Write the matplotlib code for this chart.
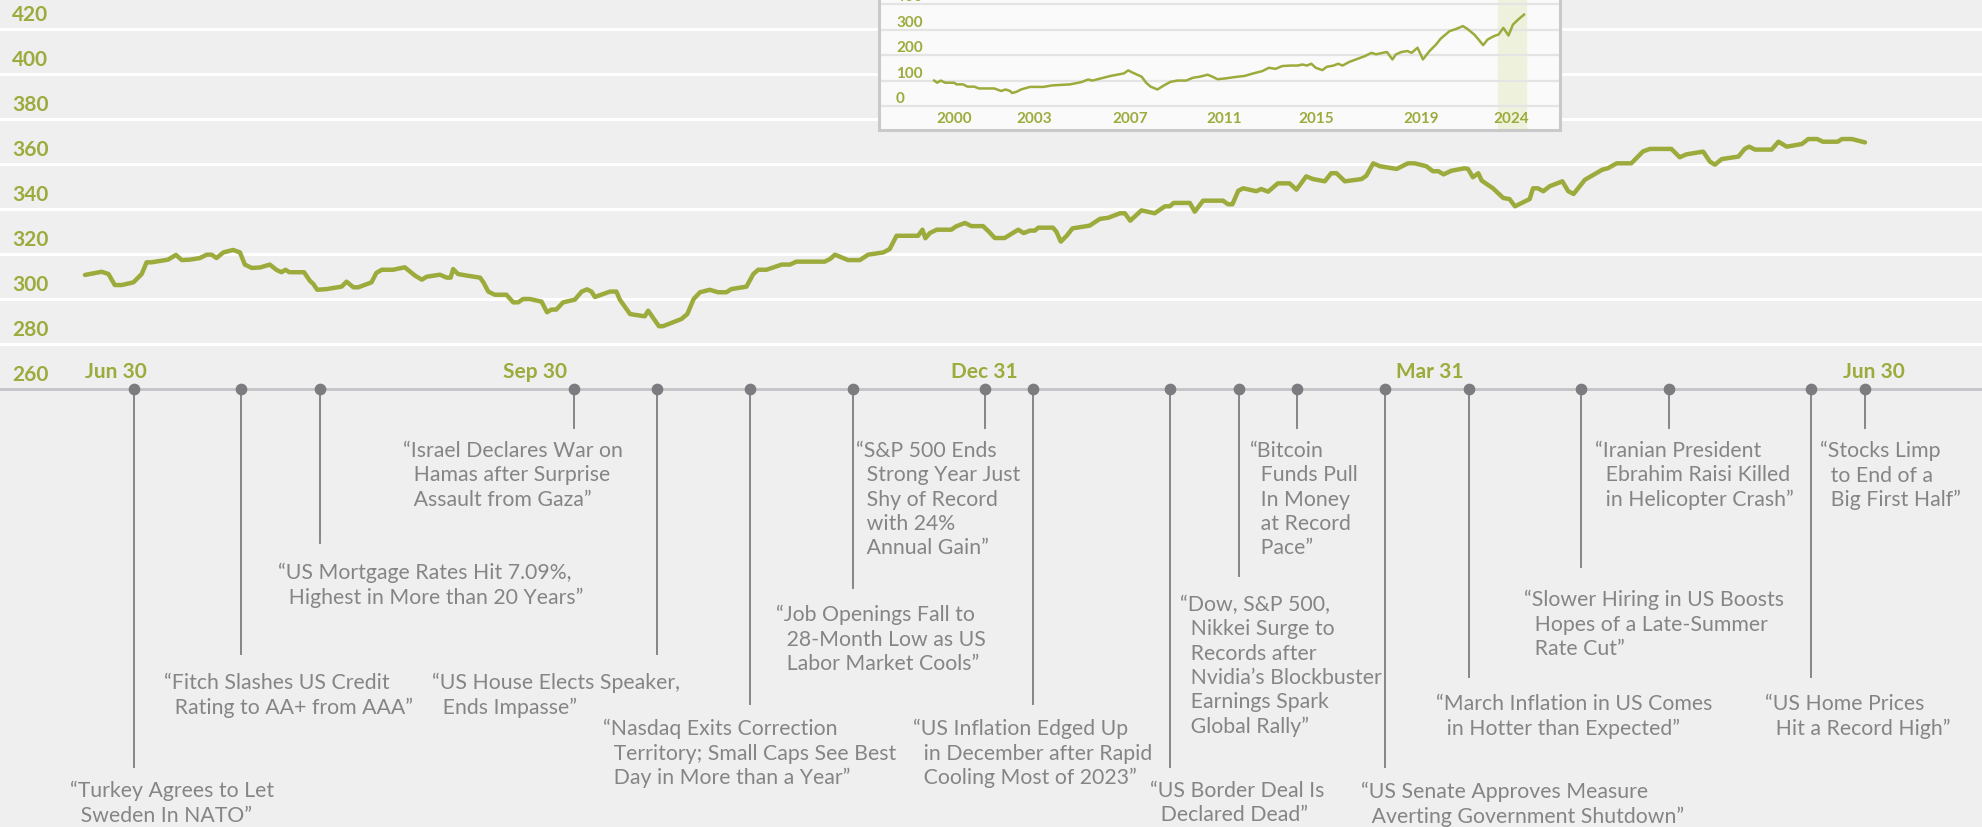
import matplotlib.pyplot as plt
import pandas as pd

START_DATE = pd.Timestamp("2023-06-30")

# Main index: days after Jun 30 2023 and index level
MAIN_DAYS = [
    0.0, 3.4, 4.8, 6.1, 7.5, 9.9, 11.6, 12.6, 13.6, 17.0,
    18.6, 19.8, 21.5, 23.5, 24.9, 25.9, 26.9, 28.3, 30.3, 31.7,
    32.7, 34.1, 35.8, 37.8, 39.2, 40.2, 41.0, 41.8, 44.8, 46.0,
    46.7, 47.5, 49.4, 52.5, 53.5, 54.9, 55.9, 58.6, 59.6, 60.7,
    63.0, 65.4, 67.5, 68.9, 69.9, 72.6, 74.0, 74.8, 75.3, 76.3,
    78.1, 80.8, 81.5, 82.5, 83.8, 86.2, 87.6, 88.6, 89.6, 91.0,
    93.4, 94.5, 95.4, 96.4, 97.8, 100.2, 101.6, 102.7, 103.6, 104.3,
    107.4, 108.7, 109.4, 111.5, 114.5, 115.2, 117.4, 118.2, 122.0, 123.2,
    124.5, 125.8, 127.8, 129.5, 131.2, 132.2, 135.3, 136.7, 137.7, 139.4,
    142.5, 144.2, 145.5, 151.3, 152.4, 153.4, 156.1, 158.5, 160.2, 163.3,
    164.6, 166.0, 170.4, 171.3, 171.9, 172.8, 174.2, 177.2, 178.2, 180.0,
    181.3, 183.7, 184.9, 186.1, 188.1, 190.9, 192.0, 193.3, 194.3, 195.0,
    198.0, 198.7, 199.6, 200.8, 202.0, 205.5, 207.6, 209.3, 211.7, 212.7,
    213.8, 216.1, 218.8, 220.9, 221.9, 222.7, 226.0, 227.0, 228.7, 232.8,
    233.8, 234.7, 235.9, 236.9, 239.6, 240.6, 242.0, 244.0, 246.4, 247.8,
    249.8, 251.2, 253.6, 254.9, 256.0, 257.7, 261.1, 262.1, 263.5, 264.9,
    268.3, 270.6, 272.0, 274.4, 275.7, 276.8, 277.9, 279.5, 282.2, 282.9,
    283.9, 285.0, 285.7, 288.0, 290.1, 291.4, 292.5, 295.5, 296.2, 297.2,
    298.3, 299.6, 302.2, 303.4, 304.5, 306.8, 310.4, 311.5, 313.3, 316.3,
    318.7, 320.1, 324.5, 326.2, 327.6, 331.0, 332.4, 333.4, 334.8, 338.2,
    339.5, 340.4, 341.6, 345.0, 346.4, 348.1, 351.2, 352.5, 354.3, 355.5,
    358.5, 359.4, 361.4, 364.1,
]
MAIN_VALUES = [
    310.7, 312.1, 311.1, 306.2, 306.2, 307.4, 311.1, 316.3, 316.3, 317.5,
    319.6, 317.3, 317.5, 318.2, 319.7, 319.7, 318.2, 320.7, 321.8, 320.7,
    315.3, 313.8, 314.0, 315.3, 312.9, 311.9, 313.0, 311.9, 311.9, 308.1,
    306.7, 304.1, 304.4, 305.5, 307.7, 305.2, 305.2, 307.4, 311.6, 313.0,
    313.0, 314.1, 310.4, 308.6, 309.9, 310.8, 309.5, 309.5, 313.3, 311.1,
    310.4, 309.5, 307.4, 303.3, 301.9, 301.9, 298.5, 298.5, 300.0, 300.0,
    298.8, 294.1, 295.3, 295.3, 298.5, 299.7, 303.3, 304.3, 303.3, 300.9,
    303.3, 303.3, 299.7, 293.3, 292.3, 294.8, 287.9, 287.9, 291.1, 293.3,
    300.0, 303.0, 304.1, 303.0, 303.0, 304.4, 305.5, 311.1, 313.0, 313.0,
    315.3, 315.3, 316.6, 316.6, 317.8, 319.7, 317.3, 317.3, 319.7, 320.7,
    322.2, 328.1, 328.1, 330.8, 327.0, 329.3, 330.8, 330.8, 332.3, 333.8,
    332.4, 332.4, 329.9, 327.1, 327.1, 330.8, 329.3, 330.4, 330.4, 331.7,
    331.7, 329.9, 325.5, 328.1, 331.4, 332.6, 335.6, 336.1, 338.1, 338.1,
    334.8, 339.4, 338.1, 341.2, 341.2, 342.7, 342.7, 338.8, 343.7, 343.7,
    342.1, 342.1, 348.1, 349.2, 347.9, 348.9, 347.7, 351.4, 351.4, 348.6,
    354.5, 353.3, 352.3, 355.9, 355.9, 352.3, 353.3, 354.8, 360.3, 359.0,
    357.8, 360.3, 360.3, 359.0, 356.8, 356.8, 355.4, 357.0, 358.1, 357.8,
    354.1, 355.9, 352.6, 349.2, 344.9, 344.4, 341.2, 344.4, 349.2, 349.2,
    347.9, 350.1, 352.3, 347.9, 346.7, 353.0, 357.5, 358.1, 360.3, 360.3,
    365.6, 366.7, 366.7, 363.0, 364.3, 365.5, 361.0, 359.7, 362.2, 363.3,
    366.7, 367.7, 366.4, 366.4, 369.9, 367.7, 368.9, 371.1, 371.1, 369.9,
    369.9, 371.1, 371.1, 369.6,
]
Y_TICKS = [260, 280, 300, 320, 340, 360, 380, 400, 420]

QUARTER_DATES = ["2023-06-30", "2023-09-30", "2023-12-31", "2024-03-31", "2024-06-30"]
QUARTER_LABELS = ["Jun 30", "Sep 30", "Dec 31", "Mar 31", "Jun 30"]

EVENT_DATES = [
    "2023-07-10", "2023-08-01", "2023-08-17", "2023-10-08", "2023-10-25",
    "2023-11-13", "2023-12-04", "2023-12-31", "2024-01-10", "2024-02-07",
    "2024-02-21", "2024-03-04", "2024-03-22", "2024-04-08", "2024-05-01",
    "2024-05-19", "2024-06-17", "2024-06-28",
]
EVENT_HEADLINES = [
    ["Turkey Agrees to Let", "Sweden In NATO"],
    ["Fitch Slashes US Credit", "Rating to AA+ from AAA"],
    ["US Mortgage Rates Hit 7.09%,", "Highest in More than 20 Years"],
    ["Israel Declares War on", "Hamas after Surprise", "Assault from Gaza"],
    ["US House Elects Speaker,", "Ends Impasse"],
    ["Nasdaq Exits Correction", "Territory; Small Caps See Best", "Day in More than a Year"],
    ["Job Openings Fall to", "28-Month Low as US", "Labor Market Cools"],
    ["S&P 500 Ends", "Strong Year Just", "Shy of Record", "with 24%", "Annual Gain"],
    ["US Inflation Edged Up", "in December after Rapid", "Cooling Most of 2023"],
    ["US Border Deal Is", "Declared Dead"],
    ["Dow, S&P 500,", "Nikkei Surge to", "Records after", "Nvidia\u2019s Blockbuster",
     "Earnings Spark", "Global Rally"],
    ["Bitcoin", "Funds Pull", "In Money", "at Record", "Pace"],
    ["US Senate Approves Measure", "Averting Government Shutdown"],
    ["March Inflation in US Comes", "in Hotter than Expected"],
    ["Slower Hiring in US Boosts", "Hopes of a Late-Summer", "Rate Cut"],
    ["Iranian President", "Ebrahim Raisi Killed", "in Helicopter Crash"],
    ["US Home Prices", "Hit a Record High"],
    ["Stocks Limp", "to End of a", "Big First Half"],
]

# Long-run inset: year and index level
INSET_YEARS = [
    1999.40, 1999.53, 1999.68, 1999.87, 2000.25, 2000.35, 2000.63, 2000.82, 2001.11, 2001.30,
    2001.96, 2002.25, 2002.44, 2002.63, 2002.72, 2002.91, 2003.10, 2003.48, 2004.05, 2004.43,
    2005.19, 2005.67, 2005.95, 2006.14, 2006.52, 2006.90, 2007.47, 2007.66, 2007.85, 2008.04,
    2008.23, 2008.42, 2008.61, 2008.90, 2009.18, 2009.46, 2009.75, 2010.13, 2010.41, 2010.70,
    2011.04, 2011.27, 2011.46, 2011.84, 2012.22, 2012.60, 2012.98, 2013.36, 2013.64, 2013.93,
    2014.21, 2014.59, 2014.88, 2015.07, 2015.26, 2015.45, 2015.64, 2015.92, 2016.11, 2016.40,
    2016.59, 2016.78, 2017.06, 2017.35, 2017.73, 2018.01, 2018.20, 2018.49, 2018.67, 2018.90,
    2019.05, 2019.28, 2019.53, 2019.72, 2019.97, 2020.20, 2020.48, 2020.76, 2020.95, 2021.33,
    2021.62, 2021.90, 2022.09, 2022.38, 2022.57, 2022.76, 2022.95, 2023.23, 2023.42, 2023.62,
    2023.84, 2024.03, 2024.28, 2024.50,
]
INSET_VALUES = [
    100, 91.5, 100, 91.5, 91.5, 85, 85, 76, 76, 69,
    69, 59, 65, 59, 51, 56, 65, 75, 75, 81,
    85, 94, 104, 100, 109, 118, 128, 140, 131, 123,
    115, 91.5, 76, 65, 81, 95, 100, 100, 111, 115,
    123, 114, 105, 109, 114, 118, 128, 137, 150, 146,
    157, 159, 159, 163, 159, 166, 150, 141, 154, 159,
    166, 159, 173, 183, 196, 209, 203, 209, 212, 183,
    203, 212, 216, 209, 229, 183, 216, 242, 264, 294,
    303, 314, 303, 281, 261, 239, 261, 275, 281, 307,
    277, 320, 342, 359,
]
INSET_Y_TICKS = [0, 100, 200, 300, 400]
INSET_X_TICK_POS = [2000.25, 2003.67, 2007.76, 2011.74, 2015.66, 2020.14, 2023.95]
INSET_X_TICK_LABELS = ["2000", "2003", "2007", "2011", "2015", "2019", "2024"]
INSET_HIGHLIGHT = (2023.4, 2024.6)

# Layout of the headline annotations (pixels)
EVENT_STEM_PX = [378, 265, 154, 39, 265, 315, 199, 39, 315, 378, 187, 39, 378, 288, 178, 39, 288, 39]
EVENT_TEXT_DX = [-64, -77, -42, -171, -225, -147, -77, -129, -120, -20, -59, -47, -24, -33, -57, -74, -46, -45]
EVENT_TEXT_Y = [403, 295, 185, 63, 295, 341, 227, 63, 341, 403, 217, 63, 404, 316, 212, 63, 316, 63]

OLIVE = "#9dab3c"
BACKGROUND = "#efefef"
GRAY_TEXT = "#858585"
GRAY_STEM = "#86868a"

plt.rcParams["font.family"] = ["Lato", "DejaVu Sans"]

W, H = 1982, 828
AXIS_Y = 390

fig = plt.figure(figsize=(W / 100, H / 100), dpi=100, facecolor=BACKGROUND)

x_left = -85 * 364.1 / 1780
x_right = (W - 85) * 364.1 / 1780

# --- main line chart ---
ax = fig.add_axes([0, 1 - AXIS_Y / H, 1, AXIS_Y / H])
ax.set_facecolor(BACKGROUND)
ax.set_xlim(x_left, x_right)
ax.set_ylim(260, 260 + AXIS_Y / 45 * 20)
ax.axis("off")

for value in Y_TICKS[1:]:
    ax.axhline(value, color="white", lw=2.2, zorder=1)

for value in Y_TICKS:
    ax.annotate(str(value), xy=(0, value), xycoords=("axes fraction", "data"),
                xytext=(12, 15), textcoords="offset pixels", ha="left", va="center",
                fontsize=15, fontweight="bold", color=OLIVE, annotation_clip=False)

ax.plot(MAIN_DAYS, MAIN_VALUES, color=OLIVE, lw=3.2, solid_joinstyle="round",
        solid_capstyle="round", zorder=3)

quarter_days = [(pd.Timestamp(d) - START_DATE).days for d in QUARTER_DATES]
for i, (day, label) in enumerate(zip(quarter_days, QUARTER_LABELS)):
    ax.text(day, 268, label, ha="left" if i == 0 else "center", va="center",
            fontsize=15, fontweight="bold", color=OLIVE)

# --- timeline of headlines ---
tl = fig.add_axes([0, 0, 1, (H - AXIS_Y) / H])
tl.set_xlim(x_left, x_right)
tl.set_ylim(H - AXIS_Y, 0)
tl.axis("off")
tl.axhline(0, color="#c3c3c8", lw=2, clip_on=False, zorder=1)

event_days = [(pd.Timestamp(d) - START_DATE).days for d in EVENT_DATES]
for day, lines, stem, dx, ty in zip(event_days, EVENT_HEADLINES, EVENT_STEM_PX,
                                    EVENT_TEXT_DX, EVENT_TEXT_Y):
    tl.plot([day, day], [0, stem], color=GRAY_STEM, lw=1.4, zorder=2)
    text = "\u201c" + "\n\u2002".join(lines) + "\u201d"
    tl.annotate(text, xy=(day, ty - 12), xytext=(dx, 0), textcoords="offset pixels",
                ha="left", va="top", fontsize=15.3, fontweight="normal",
                color=GRAY_TEXT, linespacing=1.27)

tl.scatter(event_days, [0] * len(event_days), s=55, color="#7b7b80", zorder=4,
           clip_on=False)

# --- long-run inset ---
inset_left, inset_right, inset_bottom, inset_top = 879, 1560, 131, -10
axi = fig.add_axes([inset_left / W, 1 - inset_bottom / H,
                    (inset_right - inset_left) / W, (inset_bottom - inset_top) / H])
axi.set_facecolor("#fafafa")
axi.set_xlim(2024.5 - (1524 - inset_left) / 23.5, 2024.5 + (inset_right - 1524) / 23.5)
axi.set_ylim(-(inset_bottom - 107) / 0.2545, (107 - inset_top) / 0.2545)
axi.set_xticks([])
axi.set_yticks([])
axi.spines["top"].set_visible(False)
for side in ["left", "right", "bottom"]:
    axi.spines[side].set_color("#c9c9c9")
    axi.spines[side].set_linewidth(2.2)

axi.axvspan(*INSET_HIGHLIGHT, color="#eef2dc", zorder=0)
for value in INSET_Y_TICKS:
    axi.axhline(value, color="#e4e4e4", lw=1.6, zorder=1)
    axi.annotate(str(value), xy=(0.025, value), xycoords=("axes fraction", "data"),
                 xytext=(0, 8), textcoords="offset pixels", ha="left", va="center",
                 fontsize=11, fontweight="bold", color=OLIVE, annotation_clip=False)

axi.plot(INSET_YEARS, INSET_VALUES, color=OLIVE, lw=1.8, zorder=3)

for pos, label in zip(INSET_X_TICK_POS, INSET_X_TICK_LABELS):
    axi.text(pos, -47, label, ha="center", va="center", fontsize=11,
             fontweight="bold", color=OLIVE)

fig.savefig("out.png", dpi=100, facecolor=BACKGROUND)
